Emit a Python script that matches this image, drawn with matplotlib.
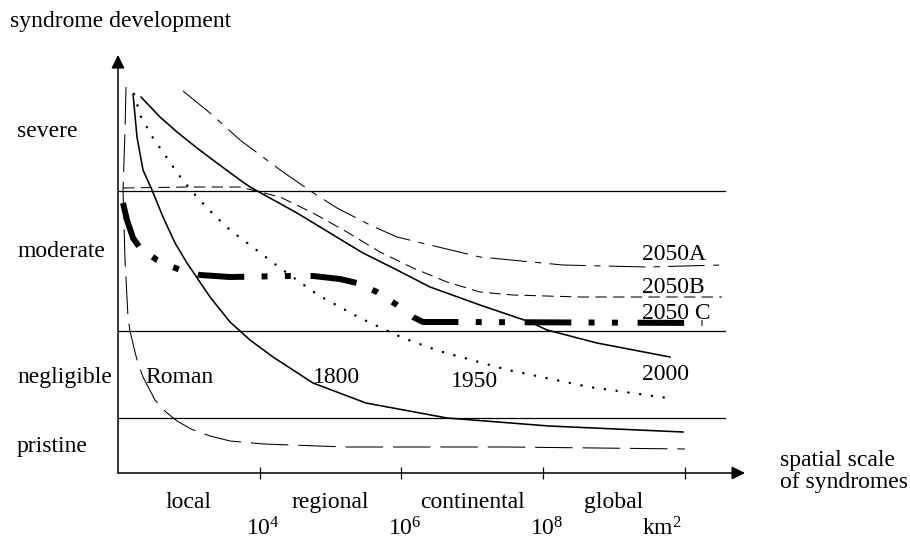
import matplotlib
matplotlib.use("Agg")
import matplotlib.pyplot as plt
import matplotlib.transforms as mtransforms

plt.rcParams['font.family'] = ['Liberation Serif', 'DejaVu Serif']
plt.rcParams['mathtext.fontset'] = 'custom'
plt.rcParams['mathtext.rm'] = 'Liberation Serif'
plt.rcParams['mathtext.it'] = 'Liberation Serif'

# x = log10(area in km2), y = syndrome development (arbitrary units)
roman_x = [2.113, 2.099, 2.085, 2.071, 2.099, 2.141, 2.169, 2.268, 2.353, 2.522, 2.677,
           2.833, 3.030, 3.299, 3.581, 4.061, 5.218, 7.505, 10.003]
roman_y = [3.86, 3.43, 3.13, 2.83, 2.13, 1.56, 1.42, 1.13, 0.96, 0.73, 0.61,
           0.52, 0.44, 0.37, 0.32, 0.29, 0.26, 0.26, 0.24]

y1800_x = [2.212, 2.268, 2.353, 2.480, 2.635, 2.805, 2.974, 3.299, 3.581, 3.863, 4.188,
           4.752, 5.500, 6.644, 8.083, 9.975]
y1800_y = [3.79, 3.36, 3.03, 2.83, 2.56, 2.30, 2.10, 1.76, 1.51, 1.33, 1.16,
           0.90, 0.70, 0.55, 0.47, 0.41]

y1950_x = [2.226, 2.325, 2.494, 2.692, 2.889, 3.101, 3.341, 3.581, 3.863, 4.287, 4.823,
           5.416, 6.023, 6.531, 7.505, 8.648, 9.862]
y1950_y = [3.79, 3.56, 3.35, 3.15, 2.95, 2.77, 2.59, 2.43, 2.28, 2.05, 1.78,
           1.55, 1.35, 1.22, 1.03, 0.86, 0.74]

y2000_x = [2.325, 2.593, 2.833, 3.115, 3.397, 3.722, 3.863, 4.527, 4.992, 5.458, 5.938,
           6.404, 7.109, 7.815, 8.055, 8.761, 9.791]
y2000_y = [3.76, 3.56, 3.41, 3.25, 3.10, 2.93, 2.86, 2.60, 2.40, 2.20, 2.03,
           1.86, 1.68, 1.51, 1.43, 1.30, 1.16]

a2050_x = [2.917, 3.299, 3.722, 4.329, 4.738, 5.091, 5.557, 5.938, 6.404, 7.109, 8.281,
           9.466, 10.525]
a2050_y = [3.82, 3.60, 3.33, 3.01, 2.81, 2.65, 2.48, 2.36, 2.28, 2.16, 2.08,
           2.06, 2.08]

b2050_x = [2.071, 2.974, 3.722, 4.287, 4.752, 5.232, 5.698, 6.164, 6.644, 7.109, 7.575,
           8.521, 10.525]
b2050_y = [2.85, 2.86, 2.86, 2.76, 2.60, 2.41, 2.21, 2.05, 1.91, 1.81, 1.78,
           1.76, 1.76]

c2050_x = [2.071, 2.127, 2.212, 2.311, 2.550, 2.875, 3.157, 3.581, 4.428, 4.752, 5.133,
           5.373, 5.656, 5.938, 6.164, 6.305, 6.827, 10.250]
c2050_y = [2.70, 2.53, 2.35, 2.25, 2.13, 2.03, 1.98, 1.96, 1.97, 1.97, 1.94,
           1.90, 1.81, 1.68, 1.56, 1.51, 1.51, 1.50]

bounds = [0.55, 1.42, 2.82]
levels = ['severe', 'moderate', 'negligible', 'pristine']
level_y = [3.36, 2.16, 0.90, 0.21]
scales = ['local', 'regional', 'continental', 'global']
scale_x = [3, 5, 7, 9]
tick_x = [4, 6, 8, 10]
tick_labels = ['$10^4$', '$10^6$', '$10^8$', 'km$^2$']

FS = 17

fig = plt.figure(figsize=(9.1, 5.41), dpi=100)
ax = fig.add_axes([118/910, 68/541, 627/910, 418/541])
ax.set_xlim(2, 10.85)
ax.set_ylim(0, 4.18)
for s in ax.spines.values():
    s.set_visible(False)

# axes with arrow heads
arrow = dict(arrowstyle='-|>', lw=1.1, color='black', mutation_scale=20,
             shrinkA=0, shrinkB=0)
ax.annotate('', xy=(1, 0), xytext=(0, 0), xycoords='axes fraction', arrowprops=arrow)
ax.annotate('', xy=(0, 1), xytext=(0, 0), xycoords='axes fraction', arrowprops=arrow)

# class boundaries
for b in bounds:
    ax.plot([2, 10.567], [b, b], color='black', lw=0.9)

k = 'black'
ax.plot(roman_x, roman_y, color=k, lw=0.75, linestyle=(0, (36, 9.5)))
ax.plot(y1800_x, y1800_y, color=k, lw=1.15)
ax.plot(y1950_x, y1950_y, color=k, lw=1.8, linestyle=(0, (0.05, 4.7)),
        dash_capstyle='round')
ax.plot(y2000_x, y2000_y, color=k, lw=1.15)
ax.plot(a2050_x, a2050_y, color=k, lw=0.75, linestyle=(0, (35, 8, 6, 8)))
ax.plot(b2050_x, b2050_y, color=k, lw=0.75, linestyle=(0, (11, 6)))
ax.plot(c2050_x, c2050_y, color=k, lw=4.3, linestyle=(0, (7.8, 2.9, 1, 2.9, 1, 3.3)),
        dash_capstyle='butt', solid_capstyle='butt')

# ticks on the x axis
ax.set_xticks(tick_x)
ax.set_xticklabels([])
ax.tick_params(axis='x', direction='inout', length=8, width=0.9)
ax.set_yticks([])

# curve labels
ax.text(2.381, 0.90, 'Roman', fontsize=FS, va='baseline')
ax.text(4.752, 0.90, '1800', fontsize=FS, va='baseline')
ax.text(6.700, 0.86, '1950', fontsize=FS, va='baseline')
ax.text(9.396, 0.93, '2000', fontsize=FS, va='baseline')
ax.text(9.396, 2.13, '2050A', fontsize=FS, va='baseline')
ax.text(9.396, 1.80, '2050B', fontsize=FS, va='baseline')
ax.text(9.396, 1.54, '2050 C', fontsize=FS, va='baseline')

# level labels on the left
trans = mtransforms.blended_transform_factory(fig.transFigure, ax.transData)
for name, yy in zip(levels, level_y):
    ax.text(17/910, yy, name, fontsize=FS, va='baseline', ha='left', transform=trans)

# scale labels under the axis
for name, xx in zip(scales, scale_x):
    ax.text(xx, -0.35, name, fontsize=FS, va='baseline', ha='center')
for lab, xx in zip(tick_labels, tick_x):
    shift = -0.33 if lab.startswith('km') else 0.05
    ax.text(xx + shift, -0.63, lab, fontsize=FS, va='baseline', ha='center')

fig.text(10/910, 1 - 27/541, 'syndrome development', fontsize=FS, va='baseline')
fig.text(780/910, 1 - 466/541, 'spatial scale', fontsize=FS, va='baseline')
fig.text(780/910, 1 - 488/541, 'of syndromes', fontsize=FS, va='baseline')

fig.savefig('out.png', dpi=100)
